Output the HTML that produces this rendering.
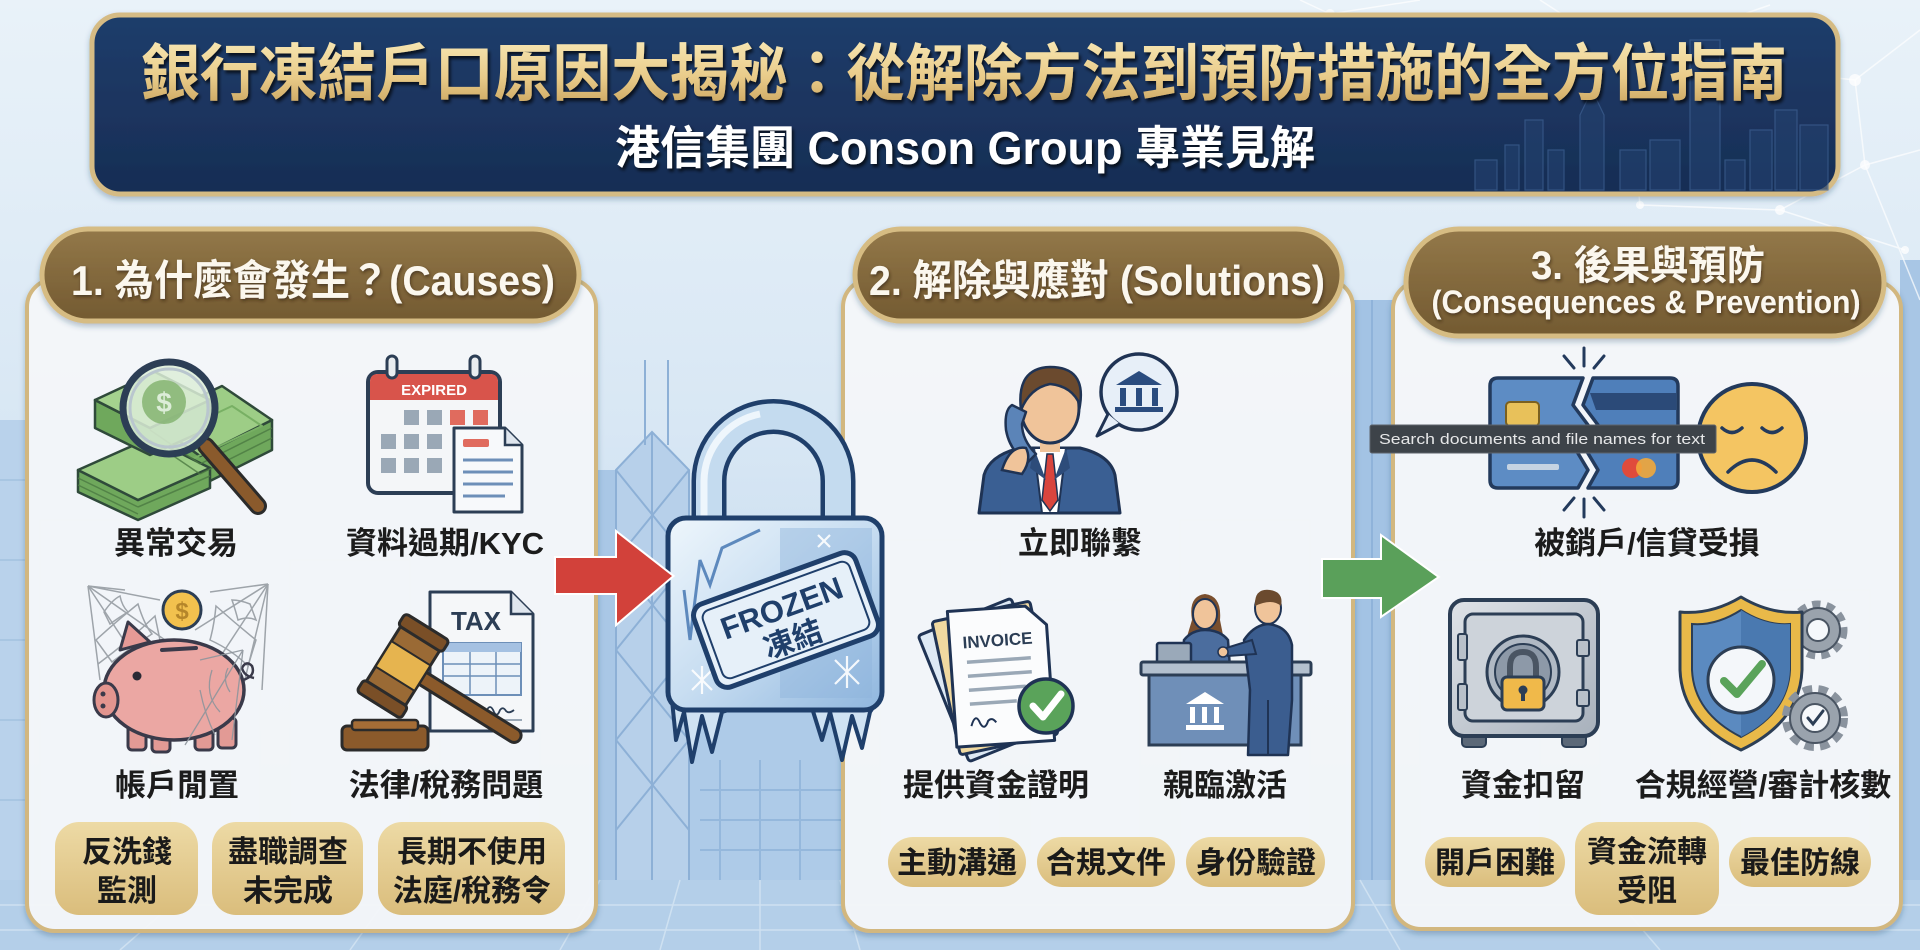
<!DOCTYPE html>
<html><head><meta charset="utf-8">
<style>
html,body{margin:0;padding:0;width:1920px;height:950px;overflow:hidden;background:#dbe8f4;}
svg{display:block}
</style></head><body>
<svg width="1920" height="950" viewBox="0 0 1920 950" xmlns="http://www.w3.org/2000/svg" font-family="'Liberation Sans','Noto Sans CJK TC',sans-serif">
<defs>
 <linearGradient id="bg" x1="0" y1="0" x2="0" y2="1">
   <stop offset="0" stop-color="#e9f2f9"/>
   <stop offset="0.45" stop-color="#d8e7f4"/>
   <stop offset="1" stop-color="#b5d0ea"/>
 </linearGradient>
 <linearGradient id="hdr" x1="0" y1="0" x2="0" y2="1">
   <stop offset="0" stop-color="#1f3d6b"/>
   <stop offset="1" stop-color="#172d54"/>
 </linearGradient>
 <linearGradient id="gold" x1="0" y1="0" x2="0" y2="1">
   <stop offset="0" stop-color="#f7e6b2"/>
   <stop offset="0.55" stop-color="#e8ca88"/>
   <stop offset="1" stop-color="#c8a25c"/>
 </linearGradient>
 <linearGradient id="pill" x1="0" y1="0" x2="0" y2="1">
   <stop offset="0" stop-color="#937849"/>
   <stop offset="1" stop-color="#735a31"/>
 </linearGradient>
 <linearGradient id="tag" x1="0" y1="0" x2="0" y2="1">
   <stop offset="0" stop-color="#eddaa5"/>
   <stop offset="1" stop-color="#dabd7c"/>
 </linearGradient>
 <linearGradient id="ice" x1="0" y1="0" x2="1" y2="1">
   <stop offset="0" stop-color="#eef6fc"/>
   <stop offset="0.5" stop-color="#c7ddf1"/>
   <stop offset="1" stop-color="#8fb6de"/>
 </linearGradient>
 <linearGradient id="steel" x1="0" y1="0" x2="1" y2="1">
   <stop offset="0" stop-color="#dfe3e8"/>
   <stop offset="1" stop-color="#a7b0bb"/>
 </linearGradient>
 <filter id="sh" x="-5%" y="-10%" width="110%" height="130%">
   <feDropShadow dx="0" dy="3" stdDeviation="3" flood-color="#23405f" flood-opacity="0.3"/>
 </filter>
 <filter id="tsh" x="-5%" y="-20%" width="110%" height="150%">
   <feDropShadow dx="2" dy="3" stdDeviation="1.5" flood-color="#000" flood-opacity="0.7"/>
 </filter>
 <filter id="psh" x="-5%" y="-20%" width="110%" height="150%">
   <feDropShadow dx="1" dy="2" stdDeviation="1.5" flood-color="#2a1d08" flood-opacity="0.6"/>
 </filter>
</defs>

<!-- BACKGROUND -->
<rect x="0" y="0" width="1920" height="950" fill="url(#bg)"/>
<g fill="#d3e3f2" stroke="#bfd5ea" stroke-width="1.5">
  <rect x="40" y="520" width="110" height="380"/>
  <rect x="170" y="600" width="90" height="300"/>
  <rect x="290" y="560" width="120" height="340"/>
  <rect x="440" y="620" width="100" height="280"/>
  <rect x="880" y="540" width="120" height="360"/>
  <rect x="1030" y="600" width="110" height="300"/>
  <rect x="1180" y="520" width="130" height="380"/>
  <rect x="1420" y="560" width="120" height="340"/>
  <rect x="1600" y="500" width="110" height="400"/>
  <rect x="1740" y="590" width="130" height="310"/>
</g>
<rect x="0" y="420" width="30" height="480" fill="#b9d2eb"/>
<g stroke="#a3c1e0" stroke-width="1.5"><line x1="0" y1="480" x2="30" y2="480"/><line x1="0" y1="560" x2="30" y2="560"/><line x1="0" y1="640" x2="30" y2="640"/><line x1="0" y1="720" x2="30" y2="720"/><line x1="0" y1="800" x2="30" y2="800"/></g>
<rect x="596" y="470" width="24" height="430" fill="#a9c7e6"/>
<rect x="690" y="560" width="152" height="340" fill="#aecbe8"/>
<g stroke="#95b8dc" stroke-width="2">
  <line x1="720" y1="760" x2="720" y2="880"/><line x1="760" y1="760" x2="760" y2="880"/><line x1="800" y1="760" x2="800" y2="880"/>
  <line x1="700" y1="790" x2="842" y2="790"/><line x1="700" y1="820" x2="842" y2="820"/><line x1="700" y1="850" x2="842" y2="850"/>
</g>
<polygon points="616,470 652,432 689,470 689,900 616,900" fill="#b7d0ea" stroke="#8db0d6" stroke-width="2"/>
<g stroke="#8db0d6" stroke-width="2" fill="none">
  <line x1="645" y1="360" x2="645" y2="445"/><line x1="668" y1="360" x2="668" y2="445"/>
  <line x1="616" y1="470" x2="689" y2="560"/><line x1="689" y1="470" x2="616" y2="560"/>
  <line x1="616" y1="560" x2="689" y2="650"/><line x1="689" y1="560" x2="616" y2="650"/>
  <line x1="616" y1="650" x2="689" y2="740"/><line x1="689" y1="650" x2="616" y2="740"/>
  <line x1="616" y1="740" x2="689" y2="830"/><line x1="689" y1="740" x2="616" y2="830"/>
  <line x1="652" y1="432" x2="652" y2="900"/>
</g>
<rect x="1352" y="300" width="42" height="600" fill="#a3c3e4"/>
<line x1="1372" y1="300" x2="1372" y2="900" stroke="#8fb3da" stroke-width="2"/>
<rect x="1900" y="260" width="20" height="640" fill="#a8c6e5"/>
<rect x="0" y="880" width="1920" height="70" fill="#b4cfe9"/>
<g stroke="#d6e6f4" stroke-width="1.5" opacity="0.8">
  <line x1="0" y1="905" x2="1920" y2="905"/><line x1="0" y1="930" x2="1920" y2="930"/>
  <line x1="600" y1="880" x2="560" y2="950"/><line x1="680" y1="880" x2="660" y2="950"/><line x1="760" y1="880" x2="760" y2="950"/><line x1="840" y1="880" x2="860" y2="950"/>
  <line x1="200" y1="880" x2="120" y2="950"/><line x1="400" y1="880" x2="350" y2="950"/><line x1="1360" y1="880" x2="1400" y2="950"/><line x1="1600" y1="880" x2="1660" y2="950"/>
</g>
<g stroke="#ffffff" stroke-width="1.5" opacity="0.7" fill="none">
  <polyline points="1540,0 1625,55 1770,5"/>
  <polyline points="1625,55 1855,80 1920,30"/>
  <polyline points="1855,80 1865,165 1920,150"/>
  <polyline points="1865,165 1780,210 1905,250"/>
  <polyline points="1780,210 1640,205 1625,55"/>
  <polyline points="1865,165 1920,300"/>
  <polyline points="1300,0 1330,14 1420,0"/>
</g>
<g fill="#ffffff" opacity="0.75">
  <circle cx="1625" cy="55" r="5"/><circle cx="1855" cy="80" r="6"/><circle cx="1865" cy="165" r="5"/><circle cx="1780" cy="210" r="5"/><circle cx="1640" cy="205" r="4"/><circle cx="1330" cy="14" r="5"/><circle cx="1905" cy="250" r="4"/>
</g>

<!-- HEADER -->
<rect x="92" y="15" width="1746" height="179" rx="28" fill="url(#hdr)" stroke="#d5bb84" stroke-width="5" filter="url(#sh)"/>
<g fill="#223f6c" stroke="#3f6294" stroke-width="1.2" opacity="0.7">
  <rect x="1475" y="160" width="22" height="30"/>
  <rect x="1505" y="145" width="14" height="45"/>
  <rect x="1525" y="120" width="18" height="70"/>
  <rect x="1548" y="150" width="16" height="40"/>
  <polygon points="1580,190 1580,115 1592,90 1604,115 1604,190"/>
  <rect x="1620" y="150" width="26" height="40"/>
  <rect x="1650" y="140" width="30" height="50"/>
  <rect x="1690" y="40" width="30" height="150"/>
  <rect x="1725" y="160" width="20" height="30"/>
  <rect x="1750" y="130" width="22" height="60"/>
  <rect x="1775" y="110" width="22" height="80"/>
  <rect x="1800" y="125" width="28" height="65"/>
</g>
<text x="964" y="95" font-size="62" font-weight="700" fill="url(#gold)" text-anchor="middle" textLength="1646" lengthAdjust="spacingAndGlyphs" filter="url(#tsh)">銀行凍結戶口原因大揭秘：從解除方法到預防措施的全方位指南</text>
<text x="965" y="164" font-size="46" font-weight="700" fill="#ffffff" text-anchor="middle" textLength="700" lengthAdjust="spacingAndGlyphs" filter="url(#tsh)">港信集團 Conson Group 專業見解</text>

<!-- PANELS -->
<rect x="27" y="279" width="569" height="652" rx="28" fill="#f5f8fb" fill-opacity="0.94" stroke="#d2b77f" stroke-width="4" filter="url(#sh)"/>
<rect x="843" y="279" width="510" height="652" rx="28" fill="#f5f8fb" fill-opacity="0.94" stroke="#d2b77f" stroke-width="4" filter="url(#sh)"/>
<rect x="1393" y="281" width="508" height="648" rx="28" fill="#f5f8fb" fill-opacity="0.94" stroke="#d2b77f" stroke-width="4" filter="url(#sh)"/>

<!-- PILLS -->
<rect x="42" y="229" width="537" height="92" rx="46" fill="url(#pill)" stroke="#d6bc83" stroke-width="5" filter="url(#sh)"/>
<rect x="855" y="229" width="487" height="92" rx="46" fill="url(#pill)" stroke="#d6bc83" stroke-width="5" filter="url(#sh)"/>
<rect x="1406" y="229" width="478" height="107" rx="53" fill="url(#pill)" stroke="#d6bc83" stroke-width="5" filter="url(#sh)"/>
<g fill="#fbf7ee" font-weight="700" text-anchor="middle" filter="url(#psh)">
  <text x="313" y="295" font-size="42" textLength="484" lengthAdjust="spacingAndGlyphs">1. 為什麼會發生？(Causes)</text>
  <text x="1097" y="295" font-size="42" textLength="456" lengthAdjust="spacingAndGlyphs">2. 解除與應對 (Solutions)</text>
  <text x="1648" y="279" font-size="40" textLength="234" lengthAdjust="spacingAndGlyphs">3. 後果與預防</text>
  <text x="1646" y="313" font-size="32" textLength="429" lengthAdjust="spacingAndGlyphs">(Consequences &amp; Prevention)</text>
</g>

<!-- ICON: money + magnifier -->
<g stroke="#2f4a3a" stroke-width="2.5" stroke-linejoin="round">
  <polygon points="150,420 150,452 200,486 272,450 272,420 200,456" fill="#6fa85c"/>
  <polygon points="150,420 222,386 272,420 200,456" fill="#9dcd86"/>
  <polygon points="160,440 232,406 262,426 190,460" fill="none" stroke="#78b064" stroke-width="2"/>
  <polygon points="78,470 78,492 138,520 210,488 210,468 138,500" fill="#6fa85c"/>
  <polygon points="78,470 150,438 210,468 138,500" fill="#9dcd86"/>
  <polygon points="95,400 95,428 150,455 210,428 210,400 150,428" fill="#6fa85c"/>
  <polygon points="95,400 155,372 210,400 150,428" fill="#a5d28e"/>
</g>
<g stroke="#4c7a42" stroke-width="1.5" fill="none" opacity="0.8">
  <line x1="150" y1="430" x2="200" y2="464"/><line x1="150" y1="440" x2="200" y2="474"/><line x1="200" y1="464" x2="272" y2="428"/><line x1="200" y1="474" x2="272" y2="438"/>
  <line x1="78" y1="478" x2="138" y2="507"/><line x1="78" y1="485" x2="138" y2="514"/><line x1="138" y1="507" x2="210" y2="476"/>
</g>
<line x1="206" y1="446" x2="258" y2="506" stroke="#2b2b2b" stroke-width="18" stroke-linecap="round"/>
<line x1="206" y1="446" x2="258" y2="506" stroke="#8a5a2c" stroke-width="12" stroke-linecap="round"/>
<circle cx="169" cy="408" r="46" fill="#dcedd8" fill-opacity="0.85" stroke="#2c3e55" stroke-width="7"/>
<circle cx="169" cy="408" r="39" fill="none" stroke="#b9c6ce" stroke-width="3"/>
<circle cx="164" cy="402" r="22" fill="#7fb06c" opacity="0.8"/>
<text x="164" y="412" font-size="28" font-weight="700" fill="#dcedd8" text-anchor="middle">$</text>

<!-- ICON: calendar -->
<rect x="368" y="372" width="132" height="121" rx="10" fill="#f4f6f8" stroke="#2c3e55" stroke-width="4"/>
<path d="M370 400 V382 Q370 374 378 374 H490 Q498 374 498 382 V400 Z" fill="#d8544b"/>
<rect x="387" y="356" width="10" height="22" rx="5" fill="#e9edf0" stroke="#2c3e55" stroke-width="3"/>
<rect x="470" y="356" width="10" height="22" rx="5" fill="#e9edf0" stroke="#2c3e55" stroke-width="3"/>
<text x="434" y="395" font-size="15" font-weight="700" fill="#ffffff" text-anchor="middle">EXPIRED</text>
<g fill="#9aa8b6">
  <rect x="404" y="410" width="15" height="15"/><rect x="427" y="410" width="15" height="15"/><rect x="450" y="410" width="15" height="15" fill="#e06b5e"/><rect x="473" y="410" width="15" height="15" fill="#e06b5e"/>
  <rect x="381" y="434" width="15" height="15"/><rect x="404" y="434" width="15" height="15"/><rect x="427" y="434" width="15" height="15"/>
  <rect x="381" y="458" width="15" height="15"/><rect x="404" y="458" width="15" height="15"/><rect x="427" y="458" width="15" height="15"/>
</g>
<polygon points="454,428 505,428 522,445 522,512 454,512" fill="#f7f9fb" stroke="#2c3e55" stroke-width="3" stroke-linejoin="round"/>
<polyline points="505,428 505,445 522,445" fill="#dfe6ee" stroke="#2c3e55" stroke-width="2.5"/>
<rect x="463" y="439" width="26" height="8" rx="2" fill="#e06b5e"/>
<g stroke="#6d8fb8" stroke-width="3"><line x1="463" y1="460" x2="513" y2="460"/><line x1="463" y1="472" x2="513" y2="472"/><line x1="463" y1="484" x2="513" y2="484"/><line x1="463" y1="496" x2="505" y2="496"/></g>

<!-- ICON: piggy with cobwebs -->
<g stroke="#9ea4aa" stroke-width="1.5" fill="none">
  <line x1="88" y1="586" x2="150" y2="680"/><line x1="88" y1="586" x2="165" y2="640"/><line x1="88" y1="586" x2="160" y2="600"/><line x1="88" y1="586" x2="100" y2="680"/><line x1="88" y1="586" x2="125" y2="590"/>
  <path d="M104 612 Q112 600 120 596 Q122 606 128 612 Q118 618 110 624 Z"/>
  <path d="M96 640 Q118 620 138 604 Q144 624 152 634 Q130 648 112 662 Z"/>
  <path d="M98 664 Q130 640 155 616 Q160 640 162 650"/>
  <line x1="268" y1="584" x2="205" y2="680"/><line x1="268" y1="584" x2="195" y2="630"/><line x1="268" y1="584" x2="210" y2="592"/><line x1="268" y1="584" x2="262" y2="690"/><line x1="268" y1="584" x2="240" y2="700"/>
  <path d="M250 604 Q240 600 232 600 Q236 612 238 620 Q248 616 256 620 Z"/>
  <path d="M256 640 Q236 624 216 606 Q214 626 210 640 Q232 650 248 666 Z"/>
  <path d="M215 680 Q200 700 214 730 M200 660 Q225 690 230 720 M190 690 Q210 700 240 698"/>
</g>
<circle cx="182" cy="610" r="19" fill="#f2c14e" stroke="#2c3e55" stroke-width="3"/>
<text x="182" y="619" font-size="24" font-weight="700" fill="#b5862a" text-anchor="middle">$</text>
<path d="M120 650 L128 622 L150 642 Z" fill="#e69a96" stroke="#3a3a4a" stroke-width="3" stroke-linejoin="round"/>
<rect x="128" y="722" width="18" height="28" rx="4" fill="#e29a95" stroke="#3a3a4a" stroke-width="3"/>
<rect x="152" y="726" width="18" height="26" rx="4" fill="#e29a95" stroke="#3a3a4a" stroke-width="3"/>
<rect x="195" y="722" width="18" height="28" rx="4" fill="#e29a95" stroke="#3a3a4a" stroke-width="3"/>
<rect x="218" y="718" width="18" height="30" rx="4" fill="#e29a95" stroke="#3a3a4a" stroke-width="3"/>
<ellipse cx="174" cy="690" rx="70" ry="50" fill="#eba7a3" stroke="#3a3a4a" stroke-width="3.5"/>
<ellipse cx="106" cy="700" rx="12" ry="17" fill="#e3958f" stroke="#3a3a4a" stroke-width="3"/>
<circle cx="103" cy="694" r="2.5" fill="#3a3a4a"/><circle cx="103" cy="706" r="2.5" fill="#3a3a4a"/>
<circle cx="137" cy="676" r="4.5" fill="#2a2a35"/>
<line x1="162" y1="650" x2="196" y2="648" stroke="#3a3a4a" stroke-width="4" stroke-linecap="round"/>
<path d="M243 680 Q256 676 252 666 Q246 660 242 668 Q244 676 254 678" fill="none" stroke="#3a3a4a" stroke-width="2.5"/>
<g stroke="#8e959c" stroke-width="1.3" fill="none" opacity="0.9">
  <line x1="243" y1="650" x2="185" y2="745"/><line x1="243" y1="650" x2="200" y2="660"/><line x1="243" y1="650" x2="232" y2="740"/>
  <path d="M228 668 Q222 680 230 692 M212 670 Q204 695 220 712 M200 690 Q205 715 215 735"/>
</g>

<!-- ICON: gavel + tax -->
<polygon points="430,592 511,592 533,614 533,731 430,731" fill="#f5f7f9" stroke="#2c3e55" stroke-width="3" stroke-linejoin="round"/>
<polyline points="511,592 511,614 533,614" fill="#dfe6ee" stroke="#2c3e55" stroke-width="2.5"/>
<text x="476" y="630" font-size="26" font-weight="700" fill="#2c3e55" text-anchor="middle">TAX</text>
<rect x="443" y="643" width="78" height="52" fill="#edf3f9" stroke="#6d8fb8" stroke-width="2"/>
<rect x="443" y="643" width="78" height="9" fill="#a5c1e2"/>
<g stroke="#6d8fb8" stroke-width="1.5"><line x1="443" y1="664" x2="521" y2="664"/><line x1="443" y1="676" x2="521" y2="676"/><line x1="470" y1="652" x2="470" y2="695"/><line x1="496" y1="652" x2="496" y2="695"/></g>
<path d="M486 712 q4 -10 8 0 q3 6 6 -2 q3 -4 6 1 q3 3 8 -1" fill="none" stroke="#2c3e55" stroke-width="1.8"/>
<line x1="480" y1="720" x2="522" y2="720" stroke="#9aa8b6" stroke-width="2"/>
<rect x="342" y="726" width="86" height="24" rx="5" fill="#8b5a2b" stroke="#2b2b2b" stroke-width="3"/>
<rect x="352" y="720" width="66" height="10" rx="3" fill="#a56d36" stroke="#2b2b2b" stroke-width="2.5"/>
<g transform="translate(403,666) rotate(32)">
  <rect x="10" y="-7" width="128" height="14" rx="7" fill="#8b5a2b" stroke="#2b2b2b" stroke-width="3"/>
  <rect x="-23" y="-46" width="46" height="92" rx="6" fill="#9a6a35" stroke="#2b2b2b" stroke-width="3"/>
  <rect x="-26" y="-46" width="52" height="14" rx="4" fill="#7a4f27" stroke="#2b2b2b" stroke-width="3"/>
  <rect x="-26" y="32" width="52" height="14" rx="4" fill="#7a4f27" stroke="#2b2b2b" stroke-width="3"/>
  <rect x="-23" y="-15" width="46" height="30" fill="#e6b44f" stroke="#2b2b2b" stroke-width="2"/>
</g>

<!-- LOCK -->
<path d="M709 530 V481 A64.5 64.5 0 0 1 838 481 V530" fill="none" stroke="#1f3f6b" stroke-width="35"/>
<path d="M709 530 V481 A64.5 64.5 0 0 1 838 481 V530" fill="none" stroke="#c4dbef" stroke-width="26"/>
<path d="M704 530 V481 A69 69 0 0 1 760 414" fill="none" stroke="#eef6fc" stroke-width="7"/>
<path d="M672 700 L676 740 L684 712 L692 762 L702 716 L712 752 L722 712 L735 708 L812 708 L822 740 L830 712 L842 760 L852 716 L862 748 L870 712 L878 700 Z" fill="#cfe2f3" stroke="#1f3f6b" stroke-width="4" stroke-linejoin="round"/>
<rect x="668" y="518" width="214" height="192" rx="18" fill="url(#ice)" stroke="#1f3f6b" stroke-width="5"/>
<rect x="780" y="528" width="92" height="170" fill="#8db3dc" opacity="0.45"/>
<path d="M684 590 L690 640 L700 560 L710 585 L722 548 L760 530" fill="none" stroke="#5d89bd" stroke-width="3"/>
<g stroke="#ffffff" stroke-width="2.2" opacity="0.9">
  <line x1="692" y1="670" x2="712" y2="690"/><line x1="712" y1="670" x2="692" y2="690"/><line x1="702" y1="666" x2="702" y2="694"/>
  <line x1="835" y1="660" x2="859" y2="684"/><line x1="859" y1="660" x2="835" y2="684"/><line x1="847" y1="656" x2="847" y2="688"/>
  <line x1="818" y1="535" x2="830" y2="547"/><line x1="830" y1="535" x2="818" y2="547"/>
</g>
<g transform="translate(786,620) rotate(-20)">
  <rect x="-86" y="-44" width="172" height="88" rx="12" fill="#e6f0f9" stroke="#1f3f6b" stroke-width="5"/>
  <rect x="-78" y="-36" width="156" height="72" rx="8" fill="none" stroke="#1f3f6b" stroke-width="2"/>
  <text x="0" y="-2" font-size="31" font-weight="700" fill="#1f3f6b" text-anchor="middle">FROZEN</text>
  <text x="0" y="31" font-size="30" font-weight="700" fill="#1f3f6b" text-anchor="middle">凍結</text>
</g>

<!-- ARROWS -->
<polygon points="556,558 617,558 617,533 672,576 617,623 617,593 556,593" fill="#d2413a" stroke="#ffffff" stroke-width="4" stroke-linejoin="miter" paint-order="stroke"/>
<polygon points="1323,560 1382,560 1382,537 1437,577 1382,615 1382,597 1323,597" fill="#5aa05a" stroke="#ffffff" stroke-width="4" stroke-linejoin="miter" paint-order="stroke"/>

<!-- ICON: businessman on phone -->
<path d="M979 513 L984 475 Q990 455 1020 448 L1080 448 Q1110 455 1115 475 L1120 513 Z" fill="#3a5f93" stroke="#1f3354" stroke-width="3" stroke-linejoin="round"/>
<polygon points="1034,448 1066,448 1058,513 1042,513" fill="#ffffff" stroke="#1f3354" stroke-width="2"/>
<polygon points="1047,454 1053,454 1058,500 1050,511 1042,500" fill="#d9453d" stroke="#1f3354" stroke-width="1.5"/>
<path d="M1034 448 L1046 480 L1030 468 Z M1066 448 L1054 480 L1070 468 Z" fill="#2d4c7a"/>
<rect x="1040" y="436" width="20" height="16" fill="#f0c49a"/>
<ellipse cx="1050" cy="408" rx="29" ry="35" fill="#f0c49a" stroke="#1f3354" stroke-width="3"/>
<path d="M1021 410 Q1016 368 1050 367 Q1086 367 1080 405 Q1072 386 1050 384 Q1030 388 1021 410 Z" fill="#6b4a2e" stroke="#1f3354" stroke-width="2.5"/>
<path d="M1012 405 Q1004 410 1006 430 Q1010 452 1028 462 L1036 454 Q1022 440 1022 424 L1026 412 Z" fill="#5b84b8" stroke="#1f3354" stroke-width="2.5" stroke-linejoin="round"/>
<path d="M1002 470 Q1010 445 1026 448 Q1032 460 1022 474 Z" fill="#f0c49a" stroke="#1f3354" stroke-width="2.5"/>
<circle cx="1139" cy="392" r="38" fill="#e7eff8" stroke="#1f3354" stroke-width="3.5"/>
<path d="M1108 414 L1097 436 L1120 424" fill="#e7eff8" stroke="#1f3354" stroke-width="3" stroke-linejoin="round"/>
<g fill="#2a4c7f">
  <polygon points="1116,385 1139,371 1162,385"/>
  <rect x="1120" y="388" width="6" height="18"/><rect x="1136" y="388" width="6" height="18"/><rect x="1152" y="388" width="6" height="18"/>
  <rect x="1115" y="407" width="48" height="5"/>
</g>

<!-- ICON: invoice -->
<g transform="rotate(-22 990 680)"><rect x="940" y="612" width="100" height="136" rx="3" fill="#dde9f5" stroke="#1f3354" stroke-width="3"/></g>
<g transform="rotate(-12 995 678)"><rect x="945" y="610" width="100" height="136" rx="3" fill="#f0d9a0" stroke="#1f3354" stroke-width="3"/></g>
<g transform="rotate(-4 1000 676)">
  <polygon points="952,608 1030,608 1050,628 1050,744 952,744" fill="#fbfcfd" stroke="#1f3354" stroke-width="3" stroke-linejoin="round"/>
  <text x="1000" y="646" font-size="17" font-weight="700" fill="#2c3e55" text-anchor="middle">INVOICE</text>
  <g stroke="#9aa8b6" stroke-width="3.5"><line x1="968" y1="660" x2="1032" y2="660"/><line x1="968" y1="674" x2="1032" y2="674"/><line x1="968" y1="688" x2="1025" y2="688"/><line x1="968" y1="702" x2="1015" y2="702"/></g>
  <path d="M968 724 q5 -14 9 -2 q4 8 8 -2 q4 -4 8 2" fill="none" stroke="#1f3354" stroke-width="2"/>
</g>
<circle cx="1046" cy="706" r="27" fill="#5aa35a" stroke="#1f3354" stroke-width="3.5"/>
<path d="M1033 706 L1043 717 L1061 694" fill="none" stroke="#ffffff" stroke-width="7" stroke-linecap="round" stroke-linejoin="round"/>

<!-- ICON: teller -->
<path d="M1192 620 Q1188 596 1205 594 Q1222 596 1220 620 L1224 640 L1186 640 Z" fill="#7a4f2e"/>
<ellipse cx="1205" cy="614" rx="12" ry="15" fill="#f0c49a" stroke="#1f3354" stroke-width="2"/>
<path d="M1182 668 L1184 640 Q1192 630 1205 630 Q1220 630 1228 640 L1230 668 Z" fill="#4b6d9e" stroke="#1f3354" stroke-width="2.5"/>
<rect x="1157" y="643" width="34" height="22" rx="2" fill="#9aa9b9" stroke="#1f3354" stroke-width="2.5"/>
<rect x="1141" y="662" width="170" height="13" rx="2" fill="#b3c0ce" stroke="#2c3e55" stroke-width="3"/>
<rect x="1149" y="675" width="152" height="70" fill="#6f8fb8" stroke="#2c3e55" stroke-width="3"/>
<g fill="#ffffff">
  <polygon points="1205,692 1224,704 1186,704"/>
  <rect x="1190" y="707" width="5" height="16"/><rect x="1202" y="707" width="5" height="16"/><rect x="1214" y="707" width="5" height="16"/>
  <rect x="1186" y="725" width="38" height="5"/>
</g>
<ellipse cx="1268" cy="608" rx="13" ry="16" fill="#f0c49a" stroke="#1f3354" stroke-width="2"/>
<path d="M1255 606 Q1254 588 1270 590 Q1284 592 1281 606 Q1272 598 1255 606 Z" fill="#6b4a2e"/>
<path d="M1248 755 L1250 690 L1244 640 Q1254 625 1268 624 Q1288 626 1292 645 L1292 700 L1288 755 Z" fill="#3b5d8f" stroke="#1f3354" stroke-width="2.5" stroke-linejoin="round"/>
<path d="M1252 640 L1226 648 L1228 656 L1256 654 Z" fill="#3b5d8f" stroke="#1f3354" stroke-width="2"/>
<circle cx="1223" cy="652" r="5" fill="#f0c49a" stroke="#1f3354" stroke-width="1.5"/>
<line x1="1268" y1="700" x2="1268" y2="755" stroke="#1f3354" stroke-width="2"/>

<!-- ICON: broken card -->
<g stroke="#233a5c" stroke-width="3" stroke-linecap="round">
  <line x1="1584" y1="348" x2="1584" y2="366"/><line x1="1564" y1="356" x2="1574" y2="368"/><line x1="1604" y1="356" x2="1594" y2="368"/>
  <line x1="1584" y1="499" x2="1584" y2="517"/><line x1="1564" y1="510" x2="1574" y2="498"/><line x1="1604" y1="510" x2="1594" y2="498"/>
</g>
<path d="M1490 386 Q1490 378 1498 378 L1583 378 L1573 405 L1588 425 L1576 450 L1588 470 L1578 488 L1498 488 Q1490 488 1490 480 Z" fill="#5d8cc4" stroke="#233a5c" stroke-width="3.5" stroke-linejoin="round"/>
<path d="M1593 378 L1670 378 Q1678 378 1678 386 L1678 480 Q1678 488 1670 488 L1588 488 L1598 470 L1586 450 L1598 425 L1583 405 Z" fill="#4f7fba" stroke="#233a5c" stroke-width="3.5" stroke-linejoin="round"/>
<path d="M1590 393 L1676 393 L1676 410 L1596 410 Z" fill="#2b4a78"/>
<rect x="1506" y="402" width="33" height="24" rx="4" fill="#e8c15a" stroke="#7a6020" stroke-width="2"/>
<rect x="1507" y="464" width="52" height="6" rx="2" fill="#c5d3e2"/>
<circle cx="1632" cy="468" r="10" fill="#e04b3c"/><circle cx="1646" cy="468" r="10" fill="#f2a93b" opacity="0.9"/>
<circle cx="1752" cy="438" r="54" fill="#f4c562" stroke="#233a5c" stroke-width="4"/>
<g fill="none" stroke="#233a5c" stroke-width="3.5" stroke-linecap="round">
  <path d="M1722 428 Q1732 437 1742 428"/><path d="M1762 428 Q1772 437 1782 428"/><path d="M1728 472 Q1752 448 1776 472"/>
</g>
<rect x="1370" y="425" width="346" height="28" rx="2" fill="#3d4349" stroke="#5d636a" stroke-width="1"/>
<text x="1379" y="444" font-size="15" fill="#e6e7e8" textLength="326" lengthAdjust="spacingAndGlyphs">Search documents and file names for text</text>

<!-- ICON: safe -->
<rect x="1462" y="730" width="24" height="17" rx="4" fill="#5b6878" stroke="#2c3e55" stroke-width="2"/>
<rect x="1562" y="730" width="24" height="17" rx="4" fill="#5b6878" stroke="#2c3e55" stroke-width="2"/>
<rect x="1450" y="600" width="148" height="136" rx="14" fill="url(#steel)" stroke="#2c3e55" stroke-width="4"/>
<rect x="1465" y="614" width="118" height="107" rx="8" fill="#cdd3da" stroke="#2c3e55" stroke-width="3"/>
<rect x="1458" y="634" width="9" height="26" rx="2" fill="#b8c0c9" stroke="#2c3e55" stroke-width="2"/>
<rect x="1458" y="684" width="9" height="26" rx="2" fill="#b8c0c9" stroke="#2c3e55" stroke-width="2"/>
<rect x="1577" y="640" width="12" height="16" rx="2" fill="#b8c0c9" stroke="#2c3e55" stroke-width="2"/>
<rect x="1577" y="690" width="12" height="16" rx="2" fill="#b8c0c9" stroke="#2c3e55" stroke-width="2"/>
<circle cx="1523" cy="672" r="36" fill="#b0b9c4" stroke="#2c3e55" stroke-width="3"/>
<circle cx="1523" cy="672" r="28" fill="#8d99a8" stroke="#2c3e55" stroke-width="2"/>
<path d="M1510 684 V667 Q1510 652 1523 652 Q1536 652 1536 667 V684" fill="none" stroke="#4a5563" stroke-width="6"/>
<rect x="1502" y="677" width="42" height="33" rx="5" fill="#f0b94a" stroke="#2c3e55" stroke-width="3"/>
<circle cx="1523" cy="690" r="4.5" fill="#2c3e55"/><rect x="1521" y="690" width="4" height="11" fill="#2c3e55"/>

<!-- ICON: shield + gears -->
<circle cx="1818" cy="630" r="25" fill="none" stroke="#8a939e" stroke-width="9" stroke-dasharray="8 6"/>
<circle cx="1818" cy="630" r="22" fill="#9aa3ad" stroke="#4a5563" stroke-width="2"/>
<circle cx="1818" cy="630" r="11" fill="#f5f8fb" stroke="#4a5563" stroke-width="2"/>
<path d="M1741 597 Q1711 615 1680 612 L1680 670 Q1682 722 1741 750 Q1800 722 1802 670 L1802 612 Q1771 615 1741 597 Z" fill="#e9b949" stroke="#2c3e55" stroke-width="3" stroke-linejoin="round"/>
<path d="M1741 610 Q1716 626 1692 624 L1692 670 Q1694 713 1741 737 Q1788 713 1790 670 L1790 624 Q1766 626 1741 610 Z" fill="#5b8ac0" stroke="#2c3e55" stroke-width="2"/>
<path d="M1741 610 L1741 737 Q1788 713 1790 670 L1790 624 Q1766 626 1741 610 Z" fill="#4a79b0"/>
<circle cx="1741" cy="680" r="33" fill="#f4f7fa" stroke="#2c3e55" stroke-width="3"/>
<path d="M1724 681 L1737 694 L1762 664" fill="none" stroke="#5aa35a" stroke-width="8" stroke-linecap="round" stroke-linejoin="round"/>
<circle cx="1815" cy="718" r="28" fill="none" stroke="#8a939e" stroke-width="10" stroke-dasharray="9 6"/>
<circle cx="1815" cy="718" r="25" fill="#9aa3ad" stroke="#4a5563" stroke-width="2"/>
<circle cx="1815" cy="718" r="14" fill="#f5f8fb" stroke="#4a5563" stroke-width="2"/>
<path d="M1808 718 L1813 724 L1823 711" fill="none" stroke="#2c3e55" stroke-width="3" stroke-linecap="round"/>

<!-- LABELS -->
<g font-size="31" font-weight="700" fill="#1c1c1c" text-anchor="middle">
  <text x="176" y="554">異常交易</text>
  <text x="445" y="554">資料過期/KYC</text>
  <text x="177" y="796">帳戶閒置</text>
  <text x="446" y="796">法律/稅務問題</text>
  <text x="1080" y="554">立即聯繫</text>
  <text x="996" y="796">提供資金證明</text>
  <text x="1225" y="796">親臨激活</text>
  <text x="1647" y="554">被銷戶/信貸受損</text>
  <text x="1523" y="796">資金扣留</text>
  <text x="1763" y="796">合規經營/審計核數</text>
</g>

<!-- TAGS -->
<g fill="url(#tag)">
  <rect x="55" y="822" width="143" height="93" rx="24"/>
  <rect x="212" y="822" width="151" height="93" rx="24"/>
  <rect x="378" y="822" width="187" height="93" rx="24"/>
  <rect x="888" y="837" width="138" height="50" rx="25"/>
  <rect x="1037" y="837" width="138" height="50" rx="25"/>
  <rect x="1186" y="837" width="139" height="50" rx="25"/>
  <rect x="1425" y="837" width="140" height="50" rx="25"/>
  <rect x="1575" y="822" width="144" height="93" rx="24"/>
  <rect x="1729" y="837" width="142" height="50" rx="25"/>
</g>
<g font-size="30" font-weight="700" fill="#1a1a1a" text-anchor="middle">
  <text x="127" y="862">反洗錢</text><text x="127" y="901">監測</text>
  <text x="288" y="862">盡職調查</text><text x="288" y="901">未完成</text>
  <text x="472" y="862">長期不使用</text><text x="472" y="901">法庭/稅務令</text>
  <text x="957" y="873">主動溝通</text>
  <text x="1106" y="873">合規文件</text>
  <text x="1256" y="873">身份驗證</text>
  <text x="1495" y="873">開戶困難</text>
  <text x="1647" y="862">資金流轉</text><text x="1647" y="901">受阻</text>
  <text x="1800" y="873">最佳防線</text>
</g>
</svg>
</body></html>
